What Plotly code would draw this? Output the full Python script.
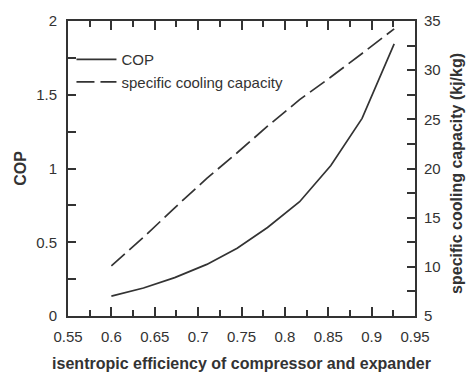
import plotly.graph_objects as go

# data
efficiency = [0.600, 0.637, 0.673, 0.710, 0.745, 0.780, 0.817, 0.853, 0.889, 0.926]
cop = [0.135, 0.19, 0.26, 0.35, 0.46, 0.60, 0.775, 1.02, 1.34, 1.845]
cooling_capacity = [10.1, 13.0, 16.0, 19.0, 21.6, 24.3, 27.0, 29.3, 31.7, 34.2]

INK = "#333333"
FONT = "Liberation Sans, Arial, sans-serif"

fig = go.Figure()
fig.add_trace(go.Scatter(
    x=efficiency, y=cop, mode="lines", name="COP",
    line=dict(color=INK, width=1.7), yaxis="y"))
fig.add_trace(go.Scatter(
    x=efficiency, y=cooling_capacity, mode="lines", name="specific cooling capacity",
    line=dict(color=INK, width=1.7, dash="18px,6px"), yaxis="y2"))

fig.update_layout(
    width=472, height=373,
    margin=dict(l=68, r=57, t=21, b=57),
    paper_bgcolor="white", plot_bgcolor="white",
    font=dict(family=FONT, size=15, color=INK),
    showlegend=True,
    legend=dict(x=0.01, y=0.925, xanchor="left", yanchor="top",
                bgcolor="rgba(0,0,0,0)", borderwidth=0,
                font=dict(size=15, color=INK), itemwidth=40),
    xaxis=dict(
        range=[0.55, 0.95], tick0=0.55, dtick=0.05,
        showgrid=False, zeroline=False,
        showline=True, linecolor=INK, linewidth=2, mirror="ticks",
        ticks="inside", ticklen=9, tickwidth=1.5, tickcolor=INK,
        minor=dict(ticks="inside", ticklen=6, dtick=0.025, tick0=0.55, tickcolor=INK, tickwidth=1.5),
        tickfont=dict(size=15, color=INK), ticklabelstandoff=6,
        title=dict(text="isentropic efficiency of compressor and expander",
                   font=dict(size=16, weight="bold", color=INK), standoff=14),
        automargin=False,
    ),
    yaxis=dict(
        range=[0, 2], tick0=0, dtick=0.5,
        showgrid=False, zeroline=False,
        showline=True, linecolor=INK, linewidth=2,
        ticks="inside", ticklen=8, tickwidth=1.5, tickcolor=INK,
        minor=dict(ticks="inside", ticklen=8, dtick=0.25, tickcolor=INK, tickwidth=1.5),
        tickfont=dict(size=15, color=INK), ticklabelstandoff=6,
        title=dict(text="COP", font=dict(size=16, weight="bold", color=INK), standoff=6),
        automargin=False,
    ),
    yaxis2=dict(
        range=[5, 35], tick0=5, dtick=5, overlaying="y", side="right",
        showgrid=False, zeroline=False,
        showline=True, linecolor=INK, linewidth=2,
        ticks="inside", ticklen=8, tickwidth=1.5, tickcolor=INK,
        minor=dict(ticks="inside", ticklen=8, dtick=2.5, tickcolor=INK, tickwidth=1.5),
        tickfont=dict(size=15, color=INK), ticklabelstandoff=4,
        automargin=False,
    ),
    annotations=[dict(
        text="specific cooling capacity (kj/kg)", textangle=-90,
        xref="paper", yref="paper", x=1.121, y=0.485,
        xanchor="center", yanchor="middle", showarrow=False,
        font=dict(size=16, weight="bold", color=INK, family=FONT),
    )],
)

fig.write_html("out.html")
